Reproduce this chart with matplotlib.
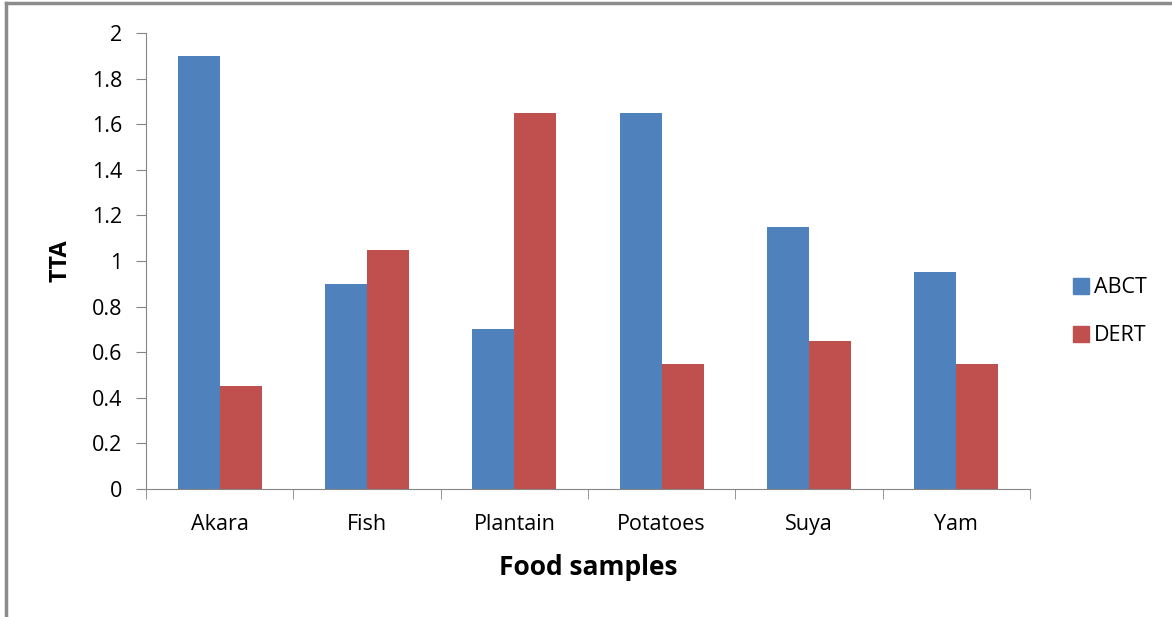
import matplotlib.pyplot as plt
import numpy as np
from matplotlib.lines import Line2D

plt.rcParams['font.family'] = ['Open Sans', 'DejaVu Sans']

foods = ["Akara", "Fish", "Plantain", "Potatoes", "Suya", "Yam"]
abct = [1.9, 0.9, 0.7, 1.65, 1.15, 0.95]
dert = [0.45, 1.05, 1.65, 0.55, 0.65, 0.55]

blue = "#4F81BD"
red = "#C0504D"
axis_grey = "#868686"

fig = plt.figure(figsize=(11.72, 6.17), dpi=100)
ax = fig.add_axes([0.1246, 0.2075, 0.7542, 0.739])

x = np.arange(len(foods))
w = 0.285
ax.bar(x - w / 2, abct, w, color=blue, label="ABCT")
ax.bar(x + w / 2, dert, w, color=red, label="DERT")

ax.set_xlim(-0.5, len(foods) - 0.5)
ax.set_ylim(0, 2)
ax.set_yticks(np.arange(0, 2.01, 0.2))
ax.set_yticklabels(["0", "0.2", "0.4", "0.6", "0.8", "1", "1.2", "1.4", "1.6", "1.8", "2"])
ax.set_xticks(x)
ax.set_xticklabels(foods)
ax.set_xticks(np.arange(-0.5, len(foods), 1), minor=True)
ax.tick_params(axis="x", which="major", length=0, pad=18, labelsize=15.5)
ax.tick_params(axis="x", which="minor", length=7, direction="out", color=axis_grey)
ax.tick_params(axis="y", length=7, direction="out", color=axis_grey, labelsize=15.5, pad=10)

for s in ["top", "right"]:
    ax.spines[s].set_visible(False)
for s in ["left", "bottom"]:
    ax.spines[s].set_color(axis_grey)

ax.set_ylabel("TTA", fontsize=17, fontweight="bold", labelpad=14)
ax.set_xlabel("Food samples", fontsize=19, fontweight="bold", labelpad=14)

handles = [Line2D([], [], marker="s", linestyle="none", markersize=11, color=blue),
           Line2D([], [], marker="s", linestyle="none", markersize=11, color=red)]
fig.legend(handles, ["ABCT", "DERT"], loc="center left", bbox_to_anchor=(0.896, 0.495),
           frameon=False, fontsize=15.5, handletextpad=0.05, handlelength=1.1, labelspacing=1.25)

# outer chart frame (left and top edges visible)
fig.add_artist(Line2D([0.0055, 0.0055], [0, 0.995], transform=fig.transFigure, color="#8c8c8c", lw=2.5))
fig.add_artist(Line2D([0.0055, 1.0], [0.995, 0.995], transform=fig.transFigure, color="#8c8c8c", lw=2.5))

fig.savefig("out.png", dpi=100)
